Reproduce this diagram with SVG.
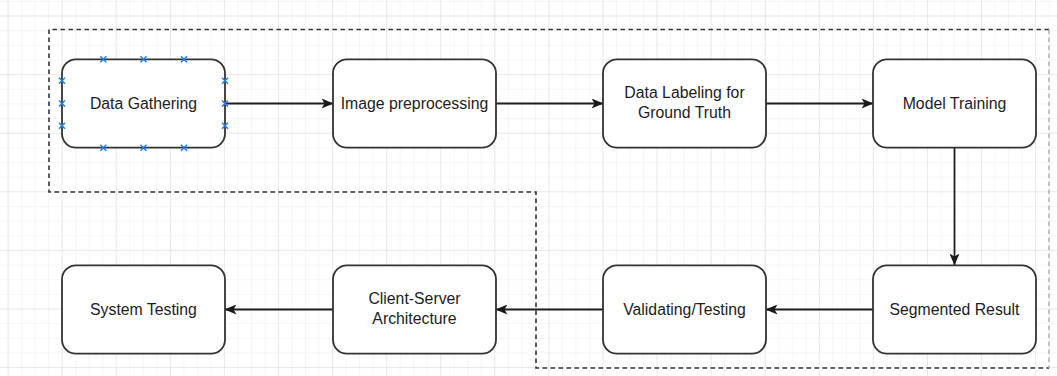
<svg xmlns="http://www.w3.org/2000/svg" width="1057" height="376" viewBox="0 0 1057 376">
<defs>
<pattern id="minor" patternUnits="userSpaceOnUse" x="7.6" y="15.5" width="13.52" height="14.65">
<path d="M0 0H13.52M0 0V14.65" fill="none" stroke="#ececec" stroke-width="1"/>
</pattern>
<pattern id="major" patternUnits="userSpaceOnUse" x="7.6" y="15.5" width="54.08" height="58.6">
<path d="M0 0H54.08M0 0V58.6" fill="none" stroke="#dddddd" stroke-width="1"/>
</pattern>
<marker id="arr" viewBox="0 0 12 10" refX="11.5" refY="5" markerWidth="12" markerHeight="10" markerUnits="userSpaceOnUse" orient="auto">
<path d="M0 0L12 5L0 10L3 5Z" fill="#1a1a1a"/>
</marker>
<g id="xm"><path d="M-3 -3L3 3M-3 3L3 -3" stroke="#1e7fe8" stroke-width="1.5"/></g>
</defs>
<style>
.node{fill:#ffffff;stroke:#333333;stroke-width:1.8}
.lbl{font-family:"Liberation Sans",Arial,sans-serif;font-size:15.8px;fill:#1c1c24;text-anchor:middle}
.edge{fill:none;stroke:#1f1f1f;stroke-width:1.8;marker-end:url(#arr)}
.dash{fill:none;stroke:#333333;stroke-width:1.6;stroke-dasharray:4.5 3.5}
.dash-light{fill:none;stroke:#aaaaaa;stroke-width:1.4;stroke-dasharray:4.5 3.5}
</style>
<rect width="1057" height="376" fill="#ffffff"/>
<rect width="1057" height="376" fill="url(#minor)"/>
<rect width="1057" height="376" fill="url(#major)"/>

<g id="boundary">
<path class="dash" d="M1049 29.5H49V192H536V368H1049"/>
<path class="dash-light" d="M1049 29.5V368"/>
</g>

<g id="connectors">
<path class="edge" d="M225 103.5H333"/>
<path class="edge" d="M496 103.5H603"/>
<path class="edge" d="M766 103.5H873"/>
<path class="edge" d="M954.5 148V265"/>
<path class="edge" d="M873 309.5H766"/>
<path class="edge" d="M603 309.5H496"/>
<path class="edge" d="M333 309.5H225"/>
</g>

<g id="n1">
<rect class="node" x="62" y="59.3" width="163" height="88.4" rx="14"/>
<text class="lbl" x="143.5" y="108.5">Data Gathering</text>
<use href="#xm" x="103.3" y="59.3"/><use href="#xm" x="143.5" y="59.3"/><use href="#xm" x="184" y="59.3"/>
<use href="#xm" x="103.3" y="147.7"/><use href="#xm" x="143.5" y="147.7"/><use href="#xm" x="184" y="147.7"/>
<use href="#xm" x="62" y="80.7"/><use href="#xm" x="62" y="103.5"/><use href="#xm" x="62" y="125.7"/>
<use href="#xm" x="225" y="80.7"/><use href="#xm" x="225" y="103.5"/><use href="#xm" x="225" y="125.7"/>
</g>
<g id="n2">
<rect class="node" x="333" y="59.3" width="163" height="88.4" rx="14"/>
<text class="lbl" x="414.5" y="108.5">Image preprocessing</text>
</g>
<g id="n3">
<rect class="node" x="603" y="59.3" width="163" height="88.4" rx="14"/>
<text class="lbl" x="684.5" y="97.5">Data Labeling for</text>
<text class="lbl" x="684.5" y="118">Ground Truth</text>
</g>
<g id="n4">
<rect class="node" x="873" y="59.3" width="163" height="88.4" rx="14"/>
<text class="lbl" x="954.5" y="108.5">Model Training</text>
</g>
<g id="n5">
<rect class="node" x="873" y="265.3" width="163" height="88.4" rx="14"/>
<text class="lbl" x="954.5" y="314.5">Segmented Result</text>
</g>
<g id="n6">
<rect class="node" x="603" y="265.3" width="163" height="88.4" rx="14"/>
<text class="lbl" x="684.5" y="314.5">Validating/Testing</text>
</g>
<g id="n7">
<rect class="node" x="333" y="265.3" width="163" height="88.4" rx="14"/>
<text class="lbl" x="414.5" y="303.5">Client-Server</text>
<text class="lbl" x="414.5" y="324">Architecture</text>
</g>
<g id="n8">
<rect class="node" x="62" y="265.3" width="163" height="88.4" rx="14"/>
<text class="lbl" x="143.5" y="314.5">System Testing</text>
</g>
</svg>
